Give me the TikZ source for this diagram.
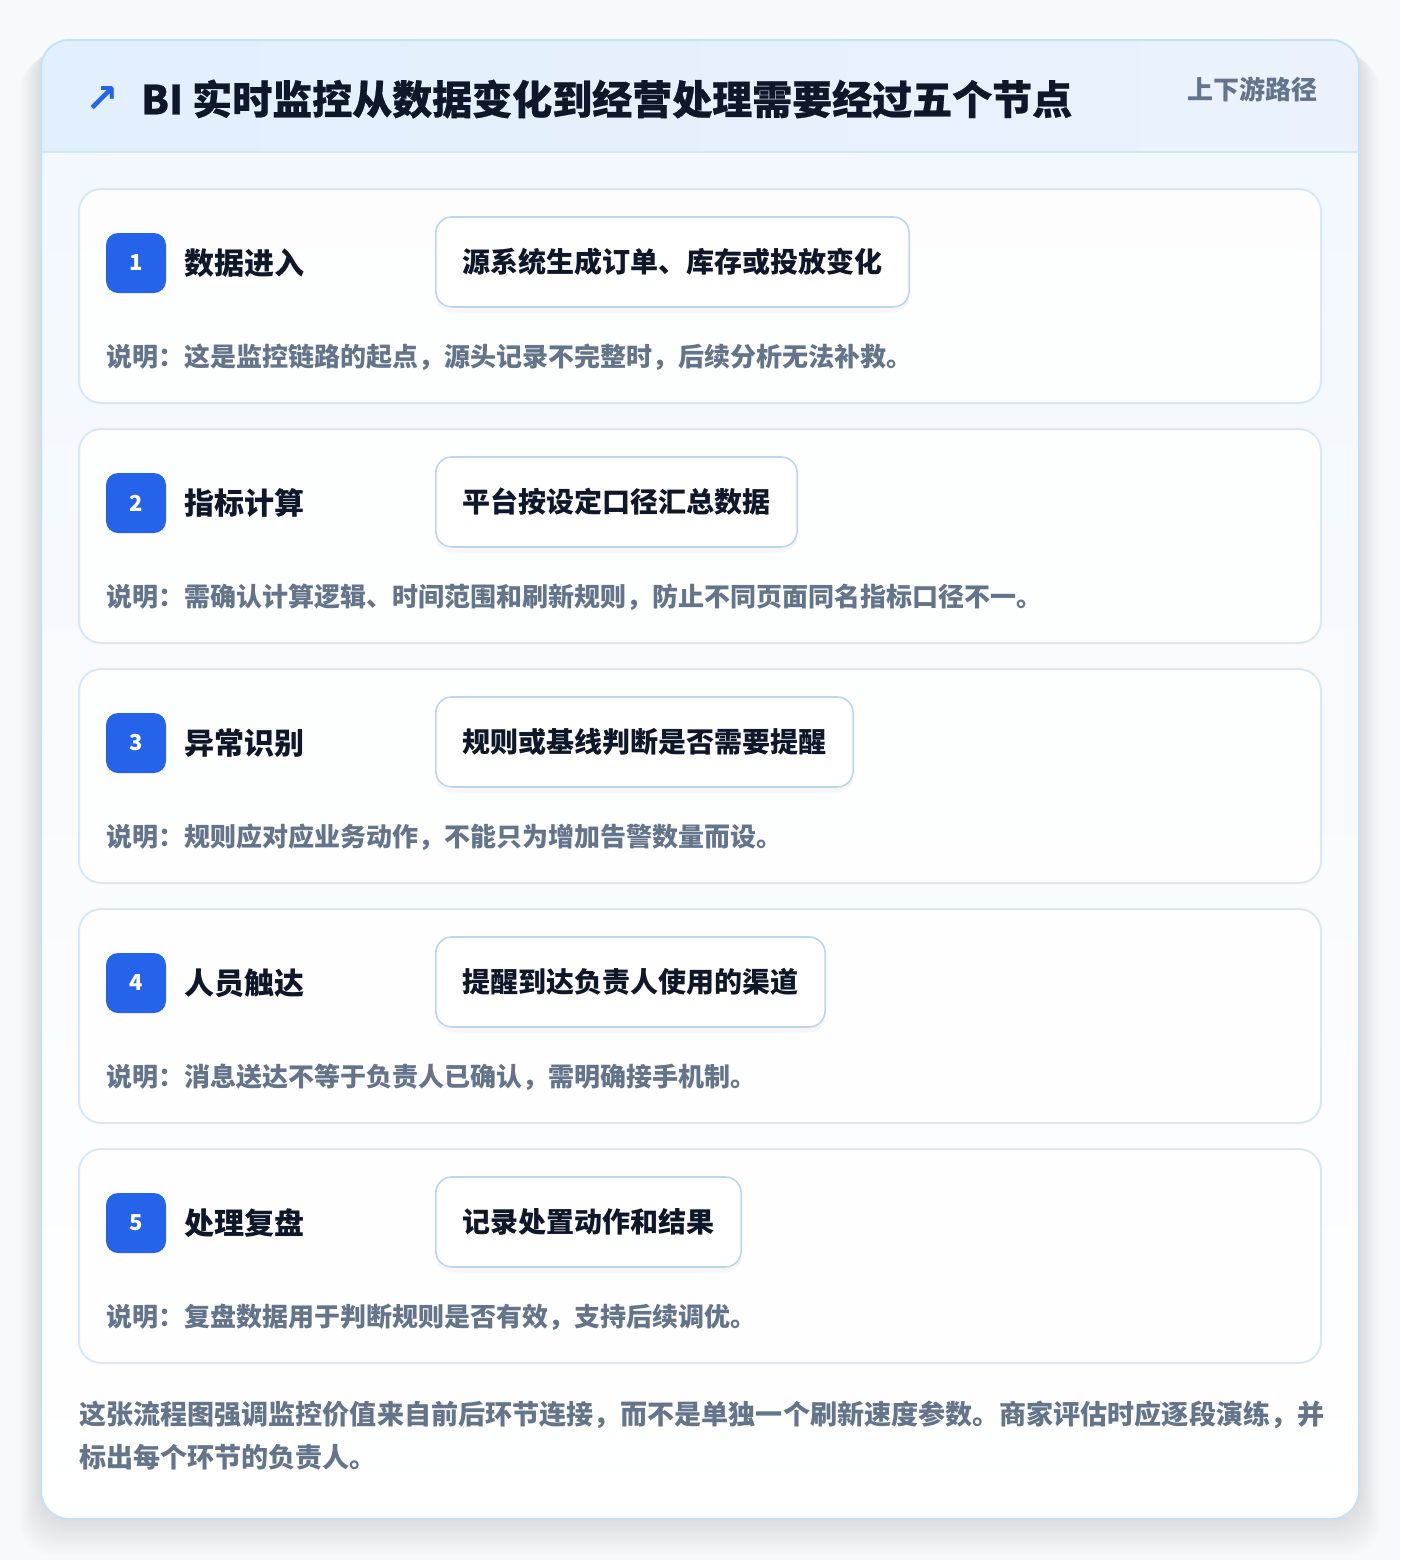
\documentclass[tikz,border=0pt]{standalone}
\usepackage{fontspec}
\setmainfont{Noto Sans CJK SC}
\newfontfamily\symfont{DejaVu Sans}
\usetikzlibrary{shadows}
\definecolor{pagebg}{HTML}{F8F9FB}
\definecolor{cardborder}{HTML}{C3E2F6}
\definecolor{headleft}{HTML}{E2EFFD}
\definecolor{headright}{HTML}{EBF2FD}
\definecolor{headline}{HTML}{D5E7F8}
\definecolor{bodytop}{HTML}{F2F8FE}
\definecolor{stepborder}{HTML}{D8E8F6}
\definecolor{pillborder}{HTML}{BCD6F2}
\definecolor{accent}{HTML}{2563EB}
\definecolor{ink}{HTML}{0F172A}
\definecolor{muted}{HTML}{64748B}
\newcommand{\fsz}[1]{\fontsize{#1}{#1}\selectfont}
\tikzset{
  stepcard/.style={draw=stepborder, line width=1.5pt, fill=white, fill opacity=0.85, rounded corners=16.5pt},
  badge/.style={fill=accent, rounded corners=9pt, minimum size=45pt, inner sep=0pt, text=white, font=\fsz{16.5pt}\bfseries},
  steplabel/.style={anchor=west, inner sep=0pt, text=ink, font=\fsz{22.5pt}\bfseries},
  pill/.style={anchor=west, draw=pillborder, line width=1.2pt, fill=white, rounded corners=12pt, minimum height=67.5pt, inner xsep=20pt, text=ink, font=\fsz{21pt}\bfseries, drop shadow={opacity=0.06, shadow xshift=0pt, shadow yshift=-4pt}},
  desc/.style={anchor=west, inner sep=0pt, text=muted, font=\fsz{19.5pt}\bfseries},
  foot/.style={anchor=west, inner sep=0pt, text=muted, font=\fsz{20.3pt}\bfseries},
}
\begin{document}
\begin{tikzpicture}[x=0.75pt,y=-0.75pt]
\useasboundingbox (0,0) rectangle (1400,1560);
\fill[pagebg] (0,0) rectangle (1400,1560);
% soft shadow of the outer card
\foreach \k in {1,...,14}{
  \fill[black, opacity=0.007, rounded corners=24pt] ({41-\k*1.5},{40+\k*1.2}) rectangle ({1359+\k*1.5},{1519+\k*2.6});
}
% outer card
\begin{scope}
  \clip[rounded corners=21pt] (41,40) rectangle (1359,1519);
  \shade[top color=bodytop, bottom color=white] (41,152) rectangle (1359,1519);
  \shade[left color=headleft, right color=headright] (41,40) rectangle (1359,152);
  \draw[headline, line width=1.2pt] (41,152) -- (1359,152);
\end{scope}
\draw[cardborder, line width=1.5pt, rounded corners=21pt] (41,40) rectangle (1359,1519);
% header
\node[anchor=center, inner sep=0pt, text=accent, font=\symfont\fsz{30pt}\bfseries] (arrow) at (102,99) {↗};
\node[anchor=west, inner sep=0pt, text=ink, font=\fsz{30pt}\bfseries\addfontfeature{FakeBold=0.6}] (title) at (141,99) {BI 实时监控从数据变化到经营处理需要经过五个节点};
\node[anchor=east, inner sep=0pt, text=muted, font=\fsz{19.5pt}\bfseries] (path) at (1318,89) {上下游路径};
% steps
\foreach \i/\lab/\pilltxt/\desctxt in {
  1/数据进入/源系统生成订单、库存或投放变化/说明：这是监控链路的起点，源头记录不完整时，后续分析无法补救。,
  2/指标计算/平台按设定口径汇总数据/说明：需确认计算逻辑、时间范围和刷新规则，防止不同页面同名指标口径不一。,
  3/异常识别/规则或基线判断是否需要提醒/说明：规则应对应业务动作，不能只为增加告警数量而设。,
  4/人员触达/提醒到达负责人使用的渠道/说明：消息送达不等于负责人已确认，需明确接手机制。,
  5/处理复盘/记录处置动作和结果/说明：复盘数据用于判断规则是否有效，支持后续调优。}{
  \pgfmathsetmacro{\top}{189+240*(\i-1)}
  \draw[stepcard] (79,\top) rectangle (1321,{\top+214});
  \node[badge] (badge\i) at (136,{\top+74}) {\i};
  \node[steplabel] (label\i) at (184,{\top+74}) {\lab};
  \node[pill] (pill\i) at (435,{\top+73}) {\pilltxt};
  \node[desc] (desc\i) at (106,{\top+168}) {\desctxt};
}
% footnote
\node[foot] (foot1) at (79,1415) {这张流程图强调监控价值来自前后环节连接，而不是单独一个刷新速度参数。商家评估时应逐段演练，并};
\node[foot] (foot2) at (79,1457) {标出每个环节的负责人。};
\end{tikzpicture}
\end{document}
